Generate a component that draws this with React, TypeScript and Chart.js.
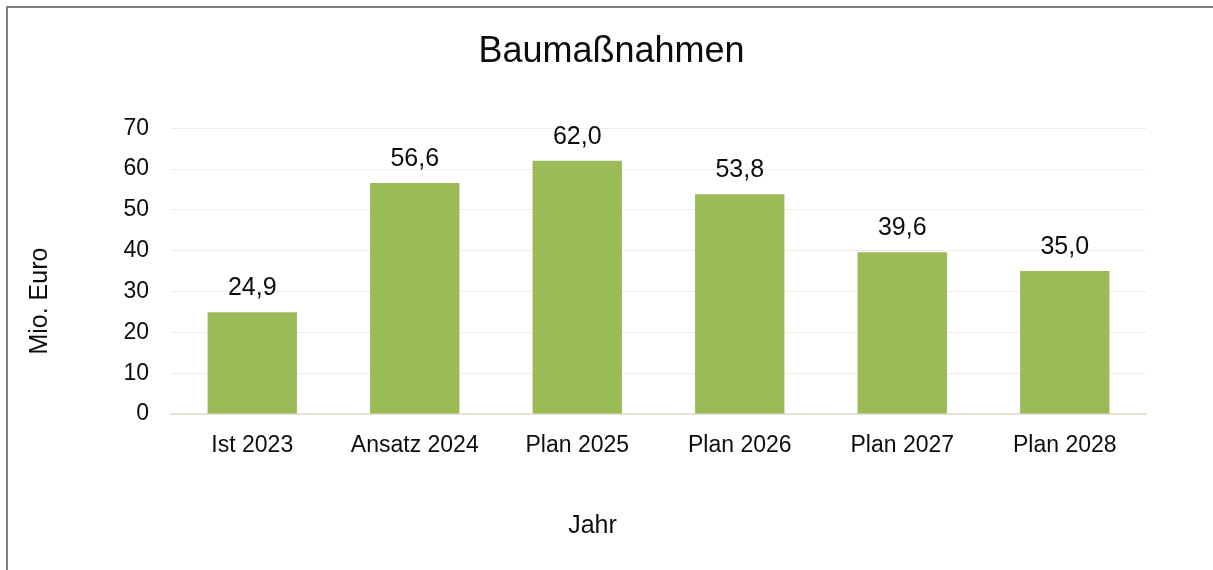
import { useEffect, useRef } from 'react';
import { Chart, registerables } from 'chart.js';

Chart.register(...registerables);

const categories = ['Ist 2023', 'Ansatz 2024', 'Plan 2025', 'Plan 2026', 'Plan 2027', 'Plan 2028'];
const values = [24.9, 56.6, 62.0, 53.8, 39.6, 35.0];
const yMin = 0;
const yMax = 70;
const yStep = 10;
const chartTitle = 'Baumaßnahmen';
const yAxisTitle = 'Mio. Euro';
const xAxisTitle = 'Jahr';

const FONT = '"Liberation Sans", Arial, Helvetica, sans-serif';
const W = 1213;
const H = 570;

const fmt = (v: number) => v.toFixed(1).replace('.', ',');

const valueLabels = {
  id: 'valueLabels',
  afterDatasetsDraw(chart: any) {
    const ctx = chart.ctx;
    const meta = chart.getDatasetMeta(0);
    ctx.save();
    ctx.font = `25px ${FONT}`;
    ctx.fillStyle = '#0d0d0d';
    ctx.textAlign = 'center';
    ctx.textBaseline = 'alphabetic';
    meta.data.forEach((bar: any, i: number) => {
      ctx.fillText(fmt(values[i]), bar.x, bar.y - 17);
    });
    ctx.restore();
  },
};

const axisTitles = {
  id: 'axisTitles',
  afterDraw(chart: any) {
    const ctx = chart.ctx;
    const area = chart.chartArea;
    ctx.save();
    ctx.font = `25px ${FONT}`;
    ctx.fillStyle = '#0d0d0d';
    ctx.textAlign = 'center';
    ctx.textBaseline = 'middle';
    // y axis title
    ctx.save();
    ctx.translate(area.left - 131, (area.top + area.bottom) / 2 + 30);
    ctx.rotate(-Math.PI / 2);
    ctx.fillText(yAxisTitle, 0, 0);
    ctx.restore();
    // x axis title
    ctx.fillText(xAxisTitle, (area.left + area.right) / 2 - 66, area.bottom + 112);
    ctx.restore();
  },
};

export default function App() {
  const ref = useRef<HTMLCanvasElement | null>(null);

  useEffect(() => {
    if (!ref.current) return;
    const chart = new Chart(ref.current, {
      type: 'bar',
      data: {
        labels: categories,
        datasets: [
          {
            data: values,
            backgroundColor: '#9BBB59',
            borderWidth: 0,
            barPercentage: 0.55,
            categoryPercentage: 1,
          },
        ],
      },
      options: {
        animation: false,
        responsive: false,
        devicePixelRatio: 1,
        layout: { padding: { left: 10, right: 0, top: 10, bottom: 0 } },
        plugins: {
          legend: { display: false },
          tooltip: { enabled: false },
          title: {
            display: true,
            text: chartTitle,
            color: '#0d0d0d',
            font: { family: FONT, size: 36, weight: 'normal' },
            padding: { top: 20, bottom: 55 },
          },
        },
        scales: {
          x: {
            grid: { display: false, drawTicks: false },
            border: { display: true, color: '#E6E2D4', width: 2 },
            ticks: {
              color: '#0d0d0d',
              font: { family: FONT, size: 23 },
              padding: 18,
              maxRotation: 0,
              autoSkip: false,
            },
            afterFit(scale: any) {
              scale.height = 156;
            },
          },
          y: {
            min: yMin,
            max: yMax,
            grid: {
              drawTicks: false,
              color: (c: any) => (c.tick && c.tick.value === 0 ? 'rgba(0,0,0,0)' : '#EFEDE3'),
              lineWidth: 1,
            },
            border: { display: false },
            ticks: {
              stepSize: yStep,
              color: '#0d0d0d',
              font: { family: FONT, size: 23 },
              padding: 22,
            },
            afterFit(scale: any) {
              scale.width = 161;
            },
          },
          yRight: {
            position: 'right',
            min: yMin,
            max: yMax,
            grid: { display: false, drawTicks: false },
            border: { display: false },
            ticks: { display: false },
            afterFit(scale: any) {
              scale.width = 67;
            },
          },
        },
      },
      plugins: [valueLabels, axisTitles],
    });
    return () => chart.destroy();
  }, []);

  return (
    <div style={{ position: 'fixed', left: 0, top: 0, width: W, height: H, background: '#fff', overflow: 'hidden' }}>
      <canvas ref={ref} width={W} height={H} style={{ display: 'block', width: W, height: H }} />
      <div
        style={{
          position: 'absolute',
          left: 6,
          top: 6,
          width: 1240,
          height: 600,
          border: '2px solid #808080',
          pointerEvents: 'none',
        }}
      />
    </div>
  );
}
